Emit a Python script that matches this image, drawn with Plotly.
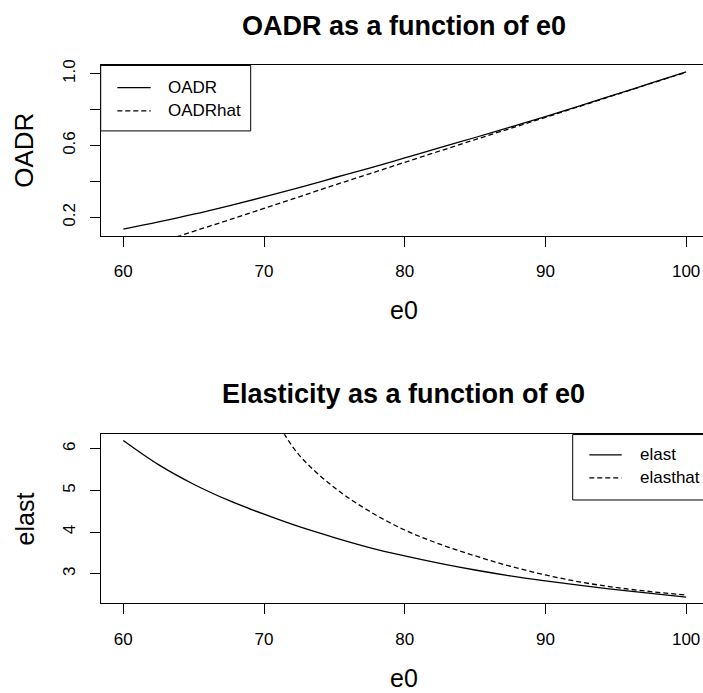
import plotly.graph_objects as go

# ---------------- data ----------------
e0_grid = [60, 62.5, 65, 67.5, 70, 72.5, 75, 77.5, 80, 82.5, 85, 87.5, 90, 92.5, 95, 97.5, 100]
oadr = [0.135, 0.175, 0.218, 0.265, 0.314, 0.366, 0.421, 0.475, 0.531, 0.588,
        0.645, 0.703, 0.761, 0.822, 0.885, 0.947, 1.010]
oadrhat = [-0.005, 0.060, 0.123, 0.186, 0.250, 0.315, 0.380, 0.443, 0.507, 0.570,
           0.633, 0.695, 0.757, 0.820, 0.883, 0.946, 1.008]

elast = [6.20, 5.62, 5.15, 4.76, 4.43, 4.13, 3.87, 3.63, 3.43, 3.25,
         3.09, 2.95, 2.83, 2.72, 2.62, 2.53, 2.44]
e0_hat = [70, 71, 72.5, 75, 77.5, 80, 82.5, 85, 87.5, 90, 92.5, 95, 97.5, 100]
elasthat = [7.20, 6.60, 5.85, 5.07, 4.50, 4.05, 3.71, 3.43, 3.18, 2.97, 2.80, 2.67, 2.57, 2.49]

x_ticks = [60, 70, 80, 90, 100]
top_y_ticks = [0.2, 0.4, 0.6, 0.8, 1.0]
top_y_ticktext = ["0.2", "", "0.6", "", "1.0"]
bot_y_ticks = [3, 4, 5, 6]

titles = ["OADR as a function of e0", "Elasticity as a function of e0"]
xlabel = "e0"
ylabels = ["OADR", "elast"]
legend_top = ["OADR", "OADRhat"]
legend_bot = ["elast", "elasthat"]

# ---------------- layout helpers ----------------
W, H = 703, 693
FONT = "Liberation Sans, Arial, Helvetica, sans-serif"


def px(x):
    return x / W


def py(y):
    return 1 - y / H


fig = go.Figure()

line_solid = dict(color="black", width=1.3)
line_dash = dict(color="black", width=1.3, dash="5px,3px")

fig.add_trace(go.Scatter(x=e0_grid, y=oadr, mode="lines", line=line_solid,
                         line_shape="spline", xaxis="x", yaxis="y", showlegend=False))
fig.add_trace(go.Scatter(x=e0_grid, y=oadrhat, mode="lines", line=line_dash,
                         line_shape="spline", xaxis="x", yaxis="y", showlegend=False))
fig.add_trace(go.Scatter(x=e0_grid, y=elast, mode="lines", line=line_solid,
                         line_shape="spline", xaxis="x2", yaxis="y2", showlegend=False))
fig.add_trace(go.Scatter(x=e0_hat, y=elasthat, mode="lines", line=line_dash,
                         line_shape="spline", xaxis="x2", yaxis="y2", showlegend=False))

xdom = [px(100.7), 1.0]
xrange_ = [58.394, 101.20]

xaxis_common = dict(
    domain=xdom, range=xrange_, tickmode="array", tickvals=x_ticks,
    ticks="outside", ticklen=10, tickwidth=1, tickcolor="black",
    showline=True, linecolor="black", linewidth=1, mirror=True,
    showgrid=False, zeroline=False,
    tickfont=dict(family=FONT, size=17, color="black"),
    ticklabelstandoff=10,
)
yaxis_common = dict(
    ticks="outside", ticklen=10, tickwidth=1, tickcolor="black",
    showline=True, linecolor="black", linewidth=1, mirror=False,
    showgrid=False, zeroline=False, tickangle=-90,
    tickfont=dict(family=FONT, size=17, color="black"),
    ticklabelstandoff=8,
)

fig.update_layout(
    width=W, height=H,
    margin=dict(l=0, r=0, t=0, b=0),
    paper_bgcolor="white", plot_bgcolor="white",
    showlegend=False,
    xaxis=dict(**xaxis_common, anchor="y"),
    yaxis=dict(**yaxis_common, domain=[py(231.7), py(60)], range=[0.0985, 1.0458],
               tickvals=top_y_ticks, ticktext=top_y_ticktext, anchor="x"),
    xaxis2=dict(**xaxis_common, anchor="y2"),
    yaxis2=dict(**yaxis_common, domain=[py(602.7), py(432)], range=[2.2857, 6.35],
                tickvals=bot_y_ticks, anchor="x2"),
)

ann = []
# main titles
ann.append(dict(text="<b>%s</b>" % titles[0], x=px(404), y=py(20), xref="paper", yref="paper",
                showarrow=False, xanchor="center", yanchor="middle",
                font=dict(family=FONT, size=27, color="black")))
ann.append(dict(text="<b>%s</b>" % titles[1], x=px(404), y=py(391.5), xref="paper", yref="paper",
                showarrow=False, xanchor="center", yanchor="middle",
                font=dict(family=FONT, size=27, color="black")))
# x labels
for yy in (307, 678):
    ann.append(dict(text=xlabel, x=px(404), y=py(yy), xref="paper", yref="paper",
                    showarrow=False, xanchor="center", yanchor="middle",
                    font=dict(family=FONT, size=25, color="black")))
# y labels
ann.append(dict(text=ylabels[0], x=px(24), y=py(146), xref="paper", yref="paper",
                showarrow=False, xanchor="center", yanchor="middle", textangle=-90,
                font=dict(family=FONT, size=26, color="black")))
ann.append(dict(text=ylabels[1], x=px(24.5), y=py(517.4), xref="paper", yref="paper",
                showarrow=False, xanchor="center", yanchor="middle", textangle=-90,
                font=dict(family=FONT, size=25, color="black")))

shapes = []
# top legend
shapes.append(dict(type="rect", xref="paper", yref="paper",
                   x0=px(100.7), x1=px(250.7), y0=py(126), y1=py(60),
                   line=dict(color="black", width=1), fillcolor="white", layer="above"))
rows_top = [82.3, 105.7]
for i, name in enumerate(legend_top):
    shapes.append(dict(type="line", xref="paper", yref="paper",
                       x0=px(117.3), x1=px(150.7), y0=py(rows_top[i]), y1=py(rows_top[i]),
                       line=line_solid if i == 0 else line_dash, layer="above"))
    ann.append(dict(text=name, x=px(166), y=py(rows_top[i]), xref="paper", yref="paper",
                    showarrow=False, xanchor="left", yanchor="middle",
                    font=dict(family=FONT, size=17, color="black")))
# bottom legend
shapes.append(dict(type="rect", xref="paper", yref="paper",
                   x0=px(572.7), x1=px(712), y0=py(498.3), y1=py(432.3),
                   line=dict(color="black", width=1), fillcolor="white", layer="above"))
rows_bot = [452.7, 476.0]
for i, name in enumerate(legend_bot):
    shapes.append(dict(type="line", xref="paper", yref="paper",
                       x0=px(589.3), x1=px(621.7), y0=py(rows_bot[i]), y1=py(rows_bot[i]),
                       line=line_solid if i == 0 else line_dash, layer="above"))
    ann.append(dict(text=name, x=px(638.3), y=py(rows_bot[i]), xref="paper", yref="paper",
                    showarrow=False, xanchor="left", yanchor="middle",
                    font=dict(family=FONT, size=17, color="black")))

fig.update_layout(annotations=ann, shapes=shapes)
fig.write_html("out.html")
